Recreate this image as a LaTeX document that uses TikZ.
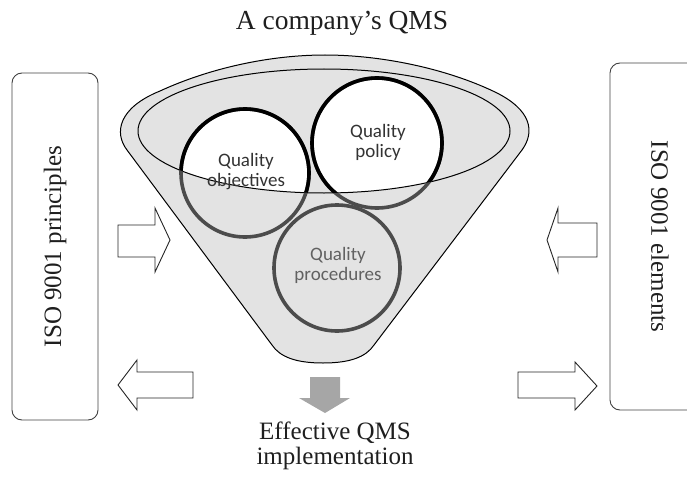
\documentclass[tikz,border=0pt]{standalone}
\usepackage{fontspec}
\setmainfont{Liberation Serif}
\newfontfamily\calib{Carlito}
\begin{document}
\begin{tikzpicture}[x=1pt,y=-1pt,
  funnelfill/.style={fill=black!11},
  blockarrow/.style={draw=black!85, line width=0.9pt, fill=white, line join=miter},
  downarrow/.style={fill=black!35, draw=none},
  sidebox/.style={draw=black!75, line width=0.9pt, rounded corners=10pt, minimum width=347pt, inner sep=0pt},
  serif/.style={font=\fontsize{25}{25}\selectfont, text=black!88},
  titletext/.style={font=\fontsize{27.5}{28}\selectfont, text=black!88},
  circtext/.style={font=\calib\fontsize{19}{20}\selectfont, align=center, text=black!80},
  proctext/.style={circtext, text=black!62},
  ringgray/.style={draw=black!70, line width=3.6pt},
  ringblack/.style={draw=black, line width=3.6pt},
]
\useasboundingbox (0,0) rectangle (687,476);
\clip (0,0) rectangle (687,476);

% title
\node[titletext, anchor=base] (title) at (342,30) {A company's QMS};

% side boxes
\node[sidebox, serif, minimum height=86pt, rotate=90] (lbox) at (55,246.5) {ISO 9001 principles};
\node[sidebox, serif, minimum height=100pt, rotate=-90] (rbox) at (660,236.5) {ISO 9001 elements};

% funnel
\draw[funnelfill, draw=black, line width=1pt]
  (127,150) .. controls (114,133) and (118,108) .. (160,91)
  .. controls (210,68) and (270,55) .. (325,55)
  .. controls (380,55) and (445,68) .. (495,92)
  .. controls (532,110) and (535,132) .. (522,150)
  -- (374,345) .. controls (366,357) and (350,363) .. (323,363)
  .. controls (296,363) and (280,357) .. (272,345) -- cycle;

\coordinate (cobj) at (245,173);
\coordinate (cpol) at (377,143);
\coordinate (cpro) at (337,268);
\coordinate (cell) at (324,131);

% inner ellipse fill
\fill[black!11] (cell) ellipse[x radius=186pt, y radius=62pt];

% white parts of circles inside the ellipse
\begin{scope}
  \clip (cell) ellipse[x radius=186pt, y radius=62pt];
  \fill[white] (cobj) circle[radius=64pt];
  \fill[white] (cpol) circle[radius=65pt];
\end{scope}

% inner ellipse outline
\draw[black, line width=1pt] (cell) ellipse[x radius=186pt, y radius=62pt];

% rings
\draw[ringgray] (cobj) circle[radius=64pt];
\draw[ringgray] (cpol) circle[radius=65pt];
\draw[ringgray] (cpro) circle[radius=63pt];
\begin{scope}
  \clip (cell) ellipse[x radius=186pt, y radius=62pt];
  \draw[ringblack] (cobj) circle[radius=64pt];
  \draw[ringblack] (cpol) circle[radius=65pt];
\end{scope}

% circle labels
\node[circtext] (tobj) at (246,172) {Quality\\objectives};
\node[circtext] (tpol) at (378,142) {Quality\\policy};
\node[proctext] (tpro) at (338,265) {Quality\\procedures};

% block arrows
\draw[blockarrow] (118,225) -- (155,225) -- (155,208) -- (170,240) -- (155,272) -- (155,257) -- (118,257) -- cycle;
\draw[blockarrow] (193,372) -- (137,372) -- (137,360) -- (118,385) -- (137,410) -- (137,398) -- (193,398) -- cycle;
\draw[blockarrow] (597,223) -- (558,223) -- (558,208) -- (547,240) -- (558,272) -- (558,257) -- (597,257) -- cycle;
\draw[blockarrow] (518,372) -- (575,372) -- (575,362) -- (597,386) -- (575,410) -- (575,398) -- (518,398) -- cycle;

% down arrow
\fill[downarrow] (310,377) -- (340,377) -- (340,398) -- (350,398) -- (325,413) -- (299,398) -- (310,398) -- cycle;

% result text
\node[serif, anchor=base, inner sep=0pt] (res1) at (335,439) {Effective QMS};
\node[serif, anchor=base, inner sep=0pt] (res2) at (335,464) {implementation};
\end{tikzpicture}
\end{document}
